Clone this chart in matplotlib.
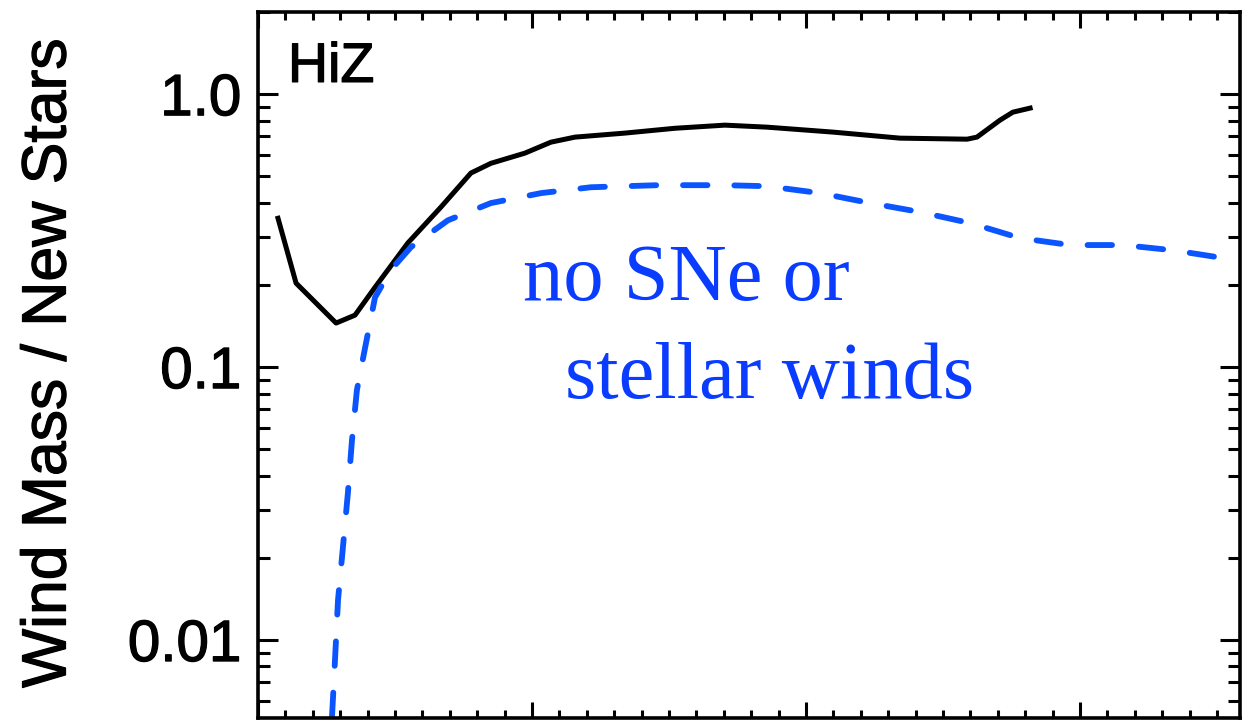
import matplotlib.pyplot as plt
import matplotlib.patheffects as pe
from matplotlib.ticker import MultipleLocator, LogLocator, NullFormatter, FixedLocator, FixedFormatter

# mass-loading of the wind relative to newly formed stars, HiZ run
t_fid = [0.73, 1.39, 2.85, 3.54, 4.27, 5.47, 6.68, 7.77, 8.50, 9.74, 10.69,
         11.57, 13.39, 15.22, 17.04, 18.58, 20.99, 23.43, 25.88, 26.24,
         27.08, 27.55, 28.18]
eta_fid = [0.351, 0.203, 0.145, 0.155, 0.196, 0.285, 0.386, 0.514, 0.558,
           0.608, 0.667, 0.696, 0.720, 0.750, 0.770, 0.757, 0.726, 0.690,
           0.684, 0.696, 0.803, 0.859, 0.889]

# run without supernovae or stellar winds
t_nosn = [2.70, 2.81, 2.92, 3.10, 3.28, 3.43, 3.61, 3.91, 4.27, 4.85, 5.58,
          6.93, 8.50, 10.33, 12.15, 14.60, 17.04, 18.58, 20.51, 22.34, 24.16,
          25.99, 27.81, 29.64, 31.57, 33.39, 35.00, 35.84]
eta_nosn = [0.00522, 0.00845, 0.0140, 0.0219, 0.0345, 0.0540, 0.0824, 0.118,
            0.180, 0.227, 0.275, 0.345, 0.399, 0.434, 0.456, 0.464, 0.464,
            0.460, 0.434, 0.399, 0.370, 0.337, 0.297, 0.280, 0.280, 0.268,
            0.253, 0.251]

ytick_vals = [0.01, 0.1, 1.0]
ytick_text = ['0.01', '0.1', '1.0']

plt.rcParams['font.family'] = ['Liberation Sans', 'DejaVu Sans']

# slightly heavier strokes for the black sans-serif text
heavy = [pe.withStroke(linewidth=0.9, foreground='black')]

fig = plt.figure(figsize=(12.44, 7.28), dpi=100)
ax = fig.add_axes([258 / 1244, 1 - 718 / 728, 982 / 1244, 706 / 728])

ax.plot(t_fid, eta_fid, color='black', lw=3.6, solid_joinstyle='round')
ax.plot(t_nosn, eta_nosn, color='#0a55ff', lw=4.2, dashes=(4.2, 4.6),
        dash_capstyle='round')

ax.set_yscale('log')
ax.set_xlim(0, 35.84)
ax.set_ylim(0.00518, 2.0)

ax.xaxis.set_major_locator(MultipleLocator(10))
ax.xaxis.set_minor_locator(MultipleLocator(1))
ax.xaxis.set_major_formatter(NullFormatter())

ax.yaxis.set_major_locator(FixedLocator(ytick_vals))
ax.yaxis.set_major_formatter(FixedFormatter(ytick_text))
ax.yaxis.set_minor_locator(LogLocator(base=10, subs=range(2, 10)))
ax.yaxis.set_minor_formatter(NullFormatter())

ax.tick_params(which='both', direction='in', top=True, right=True, width=2.2)
ax.tick_params(axis='x', which='major', length=11.5)
ax.tick_params(axis='x', which='minor', length=6)
ax.tick_params(axis='y', which='major', length=14.5, labelsize=42, pad=12)
ax.tick_params(axis='y', which='minor', length=8.5)
for s in ax.spines.values():
    s.set_linewidth(2.6)
for lab in ax.get_yticklabels():
    lab.set_path_effects(heavy)

ax.text(0.0305, 0.901, 'HiZ', transform=ax.transAxes, fontsize=40,
        va='baseline', ha='left', path_effects=heavy)
ax.text(0.270, 0.592, 'no SNe or', transform=ax.transAxes, fontsize=58,
        family='Liberation Serif', color='#0a3cff', va='baseline', ha='left')
ax.text(0.3126, 0.453, 'stellar winds', transform=ax.transAxes, fontsize=58,
        family='Liberation Serif', color='#0a3cff', va='baseline', ha='left')

fig.text(49 / 1244, 1 - 363 / 728, 'Wind Mass / New Stars', rotation=90,
         fontsize=45, ha='center', va='center', path_effects=heavy)

fig.savefig('out.png', dpi=100)
